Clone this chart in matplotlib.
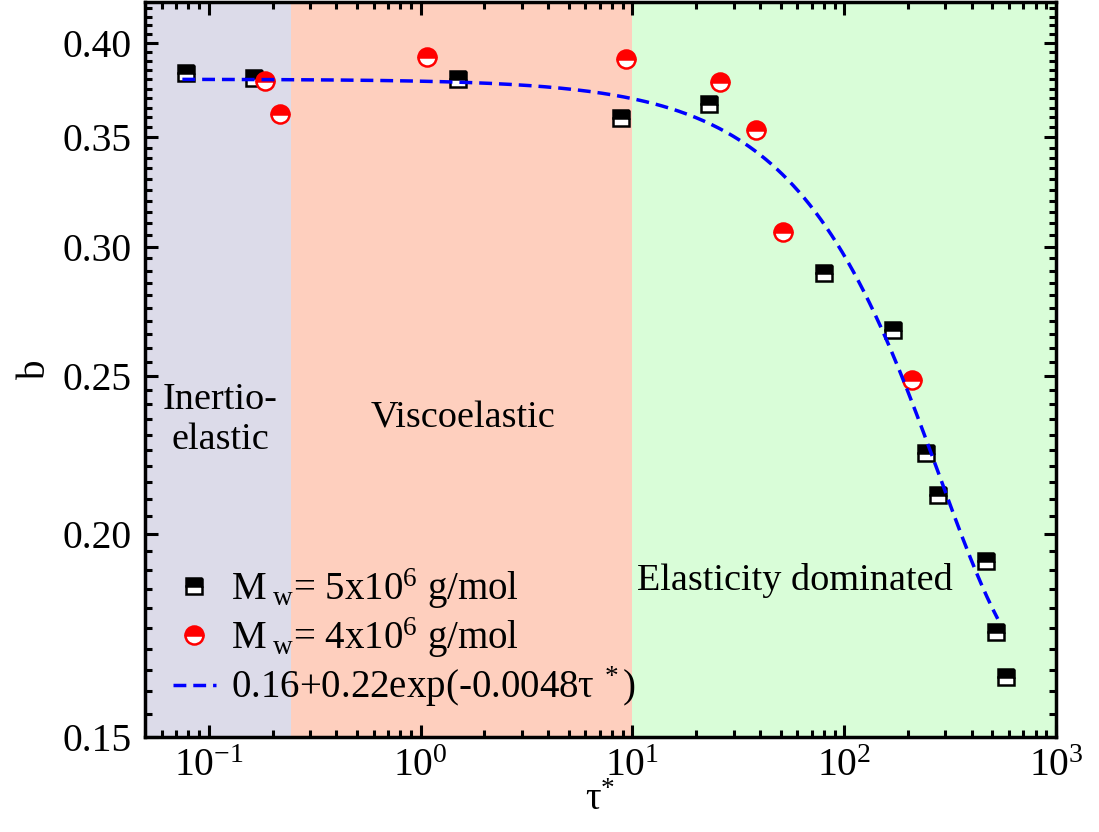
import matplotlib
matplotlib.use('Agg')
import matplotlib.pyplot as plt
import matplotlib.ticker as mticker
import numpy as np

plt.rcParams['font.family'] = ['Liberation Serif', 'DejaVu Serif']
plt.rcParams['mathtext.fontset'] = 'custom'
plt.rcParams['mathtext.rm'] = 'Liberation Serif'
plt.rcParams['mathtext.it'] = 'Liberation Serif:italic'
plt.rcParams['axes.unicode_minus'] = False

# データ
tau_5e6 = [0.0776, 0.163, 1.50, 8.81, 22.9, 80.6, 170, 244, 277, 469, 522, 577]
b_5e6 = [0.3836, 0.3804, 0.380, 0.3598, 0.367, 0.2889, 0.2668, 0.2240, 0.2112, 0.1923, 0.1740, 0.1634]

tau_4e6 = [0.185, 0.217, 1.077, 9.29, 25.8, 38.4, 51.5, 209]
b_4e6 = [0.3793, 0.3618, 0.3922, 0.3908, 0.3787, 0.3538, 0.3062, 0.2483]

# フィット式 b = A + B*exp(-k*tau)
fit_A, fit_B, fit_k = 0.16, 0.22, 0.0048
fit_range = [0.075, 530]

# 領域の境界
region_edges = [0.05, 0.245, 10, 1000]
region_colors = ['#dcdbe9', '#fecfbe', '#d9fdd8']

fig = plt.figure(figsize=(10.99, 8.32), dpi=100)
ax = fig.add_axes([0.132, 0.114, 0.829, 0.884])

for i in range(3):
    ax.axvspan(region_edges[i], region_edges[i + 1], color=region_colors[i], lw=0, zorder=0)

tau_fit = np.logspace(np.log10(fit_range[0]), np.log10(fit_range[1]), 300)
b_fit = fit_A + fit_B * np.exp(-fit_k * tau_fit)

ax.plot(tau_5e6, b_5e6, ls='none', marker='s', ms=11.5, mec='black', mew=1.8,
        mfc='black', mfcalt='white', fillstyle='top', zorder=3,
        label=r'M$_\mathregular{\ w}$= 5x10$^\mathregular{6}$ g/mol')
ax.plot(tau_4e6, b_4e6, ls='none', marker='o', ms=13, mec='red', mew=1.8,
        mfc='red', mfcalt='white', fillstyle='top', zorder=3,
        label=r'M$_\mathregular{\ w}$= 4x10$^\mathregular{6}$ g/mol')
ax.plot(tau_fit, b_fit, ls='--', color='blue', lw=2.5, dashes=(3.7, 2), zorder=4,
        label=r'0.16+0.22exp(-0.0048τ$^\mathregular{\ *}$)')

ax.set_xscale('log')
ax.set_yscale('log')
ax.set_xlim(0.05, 1000)
ax.set_ylim(0.15, 0.424)

ax.yaxis.set_major_locator(mticker.FixedLocator([0.15, 0.20, 0.25, 0.30, 0.35, 0.40]))
ax.yaxis.set_major_formatter(mticker.FormatStrFormatter('%.2f'))
ax.yaxis.set_minor_locator(mticker.FixedLocator(np.arange(0.15, 0.4251, 0.005)))
ax.yaxis.set_minor_formatter(mticker.NullFormatter())
ax.xaxis.set_major_locator(mticker.LogLocator(base=10, numticks=10))
ax.xaxis.set_minor_locator(mticker.LogLocator(base=10, subs=np.arange(2, 10), numticks=20))

ax.tick_params(which='both', direction='in', top=True, right=True, width=2.2)
ax.tick_params(which='major', length=9, labelsize=28.5)
ax.tick_params(which='minor', length=5)
ax.tick_params(axis='y', pad=10)
ax.tick_params(axis='x', pad=8)
for s in ax.spines.values():
    s.set_linewidth(2.5)

ax.set_xlabel('τ$^\mathregular{*}$', fontsize=28, labelpad=-2)
ax.set_ylabel('b', fontsize=28, labelpad=6)

ax.text(0.113, 0.2348, 'Inertio-\nelastic', fontsize=27.5, ha='center', va='center',
        linespacing=1.2)
ax.text(1.59, 0.2355, 'Viscoelastic', fontsize=27.5, ha='center', va='center')
ax.text(58.7, 0.1872, 'Elasticity dominated', fontsize=27.5, ha='center', va='center')

ax.legend(loc='lower left', bbox_to_anchor=(0.0, 0.0), frameon=False, fontsize=28,
          handlelength=1.1, handletextpad=0.4, labelspacing=0.12,
          borderaxespad=0.0, borderpad=0.72)

fig.savefig('out.png', dpi=100)
